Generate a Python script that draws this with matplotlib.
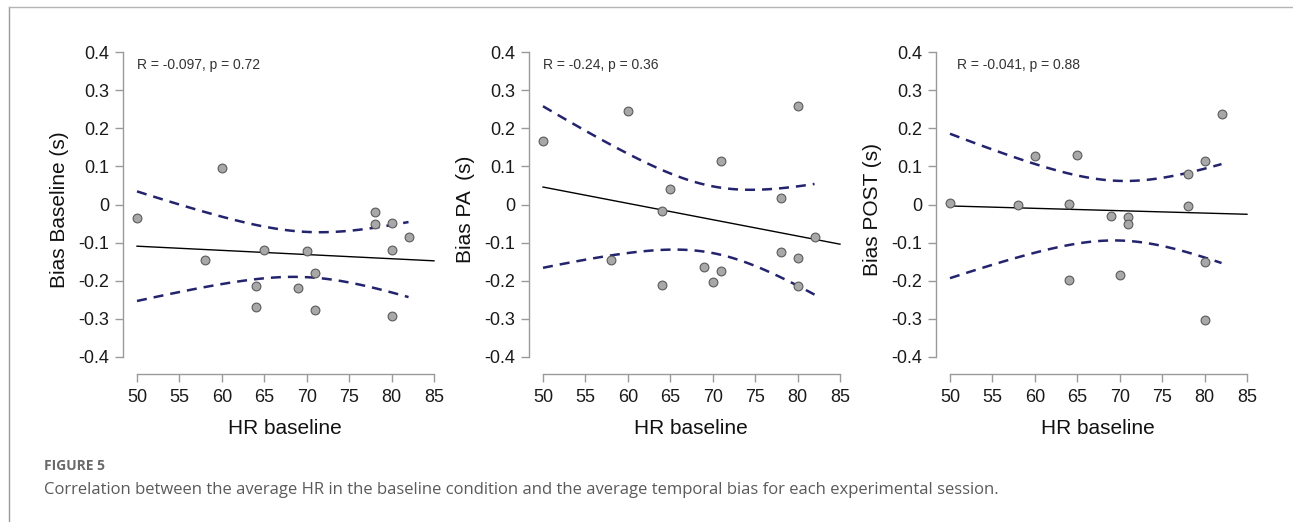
import numpy as np
import matplotlib
matplotlib.use("Agg")
import matplotlib.pyplot as plt
from matplotlib.lines import Line2D

plt.rcParams['font.family'] = ['Liberation Sans', 'DejaVu Sans']

# HR at baseline, same sessions in every panel
hr = np.array([50, 58, 60, 64, 64, 65, 69, 70, 71, 71, 78, 78, 80, 80, 80, 82])

bias_baseline = np.array([-0.035, -0.145, 0.096, -0.215, -0.268, -0.120, -0.219, -0.121,
                          -0.180, -0.278, -0.019, -0.050, -0.048, -0.120, -0.293, -0.085])
bias_pa = np.array([0.167, -0.145, 0.246, -0.018, -0.210, 0.040, -0.165, -0.202,
                    0.114, -0.175, 0.018, -0.125, 0.258, -0.140, -0.214, -0.086])
bias_post = np.array([0.004, -0.001, 0.128, 0.001, -0.197, 0.130, -0.029, -0.186,
                      -0.033, -0.050, 0.080, -0.005, 0.115, -0.151, -0.304, 0.238])

y_labels = ['Bias Baseline (s)', 'Bias PA  (s)', 'Bias POST (s)']
stat_labels = ['R = -0.097, p = 0.72', 'R = -0.24, p = 0.36', 'R = -0.041, p = 0.88']
x_ticks = [50, 55, 60, 65, 70, 75, 80, 85]
y_ticks = [0.4, 0.3, 0.2, 0.1, 0, -0.1, -0.2, -0.3, -0.4]
y_tick_labels = ['0.4', '0.3', '0.2', '0.1', '0', '-0.1', '-0.2', '-0.3', '-0.4']

T_95 = 2.145  # t quantile, df = 14


def fit_with_band(x, y, grid):
    slope, intercept = np.polyfit(x, y, 1)
    n = len(x)
    resid = y - (slope * x + intercept)
    s = np.sqrt(np.sum(resid ** 2) / (n - 2))
    sxx = np.sum((x - x.mean()) ** 2)
    fit = slope * grid + intercept
    se = s * np.sqrt(1 / n + (grid - x.mean()) ** 2 / sxx)
    return fit, fit - T_95 * se, fit + T_95 * se


fig = plt.figure(figsize=(12.93, 5.22), dpi=100)

# frame of the figure box
fig.add_artist(Line2D([9 / 1293, 9 / 1293], [0, 1 - 7 / 522], color='#9a9a9a', lw=1.0))
fig.add_artist(Line2D([9 / 1293, 1], [1 - 7 / 522, 1 - 7 / 522], color='#b5b5b5', lw=1.0))

lefts = [123, 529, 936]
series = [bias_baseline, bias_pa, bias_post]
stat_x = [50, 50, 50.8]

for left, y, ylab, stat, sx in zip(lefts, series, y_labels, stat_labels, stat_x):
    ax = fig.add_axes([left / 1293, 1 - 374 / 522, 323.7 / 1293, (374 - 44.4) / 522])
    ax.set_xlim(48.35, 86.5)
    ax.set_ylim(-0.4446, 0.42)

    full = np.linspace(50, 85, 100)
    fit, _, _ = fit_with_band(hr, y, full)
    ax.plot(full, fit, color='black', lw=1.0, zorder=2)

    band_x = np.linspace(hr.min(), hr.max(), 100)
    _, lo, hi = fit_with_band(hr, y, band_x)
    for b in (lo, hi):
        ax.plot(band_x, b, color='#23236e', lw=1.8, dashes=(4, 2.8), zorder=3)

    ax.scatter(hr, y, s=40, facecolor='#a8a8a8', edgecolor='#5a5a5a', linewidths=0.8, zorder=4)

    ax.text(sx, 0.365, stat, fontsize=10, color='#333333', ha='left', va='center')

    for side in ('top', 'right'):
        ax.spines[side].set_visible(False)
    ax.spines['left'].set_bounds(-0.4, 0.4)
    ax.spines['bottom'].set_bounds(50, 85)
    for side in ('left', 'bottom'):
        ax.spines[side].set_color('#9a9a9a')
        ax.spines[side].set_linewidth(1.0)

    ax.set_xticks(x_ticks)
    ax.set_yticks(y_ticks)
    ax.set_yticklabels(y_tick_labels)
    ax.tick_params(axis='both', colors='#9a9a9a', labelcolor='#1a1a1a', labelsize=13,
                   length=6, width=1.0)
    ax.tick_params(axis='y', pad=4)
    ax.tick_params(axis='x', pad=5)

    ax.set_xlabel('HR baseline', fontsize=15, labelpad=9, color='#111111')
    ax.set_ylabel(ylab, fontsize=15, labelpad=7, color='#111111')

fig.text(44 / 1293, 1 - 466 / 522, 'FIGURE 5', fontsize=10, fontweight='bold',
         color='#6a6a6a', family=['Open Sans', 'DejaVu Sans'], va='center', ha='left')
fig.text(44 / 1293, 1 - 490 / 522,
         'Correlation between the average HR in the baseline condition and the average '
         'temporal bias for each experimental session.',
         fontsize=12, color='#5a5a5a', family=['Open Sans', 'DejaVu Sans'],
         va='center', ha='left')

fig.savefig('out.png', dpi=100)
